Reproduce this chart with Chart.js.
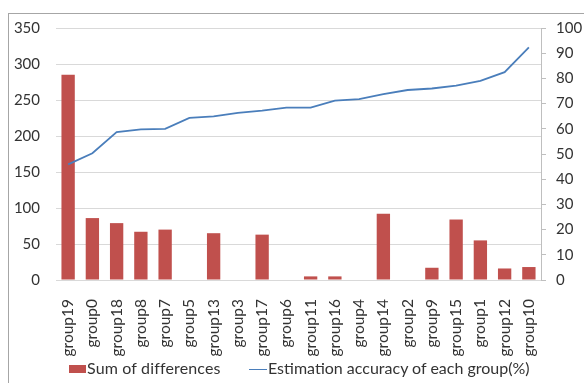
<!DOCTYPE html>
<html>
<head>
<meta charset="utf-8">
<script src="https://cdn.jsdelivr.net/npm/chart.js@4.4.1/dist/chart.umd.min.js"></script>
<style>
  html, body { margin: 0; padding: 0; background: #fff; overflow: hidden; }
  #wrap { position: relative; width: 584px; height: 383px; overflow: hidden; }
  #frame { position: absolute; left: 8px; top: 13px; width: 640px; height: 420px;
           border-left: 1px solid #a6a6a6; border-top: 1px solid #a6a6a6; }
  #chart { position: absolute; left: 0; top: 0; }
  .lg { position: absolute; font: 16px Lato, sans-serif; color: #333; white-space: nowrap; line-height: 16px; }
  .sw-bar { position: absolute; left: 69px; top: 365px; width: 17px; height: 8px; background: #C0504D; }
  .sw-line { position: absolute; left: 249px; top: 368.5px; width: 18px; height: 1.5px; background: #4A7EBB; }
</style>
</head>
<body>
<div id="wrap">
  <div id="frame"></div>
  <canvas id="chart" width="584" height="383"></canvas>
  <div class="sw-bar"></div>
  <div class="lg" style="left:87px; top:360px; letter-spacing:0.15px;">Sum of differences</div>
  <div class="sw-line"></div>
  <div class="lg" style="left:268px; top:360px;">Estimation accuracy of each group(%)</div>
</div>
<script>
// Groups, ordered by estimation accuracy
const categories = ['group19','group0','group18','group8','group7','group5','group13','group3','group17','group6',
                    'group11','group16','group4','group14','group2','group9','group15','group1','group12','group10'];
// Sum of differences per group (left axis)
const sumOfDifferences = [285, 86, 79, 67, 70, 0, 65, 0, 63, 0, 5, 5, 0, 92, 0, 17, 84, 55, 16, 18];
// Estimation accuracy per group in percent (right axis)
const accuracyPct = [45.9, 50.3, 58.7, 59.8, 60.0, 64.3, 64.9, 66.3, 67.2, 68.4,
                     68.4, 71.2, 71.8, 73.8, 75.4, 76.0, 77.1, 79.0, 82.5, 92.3];
const leftTicks = { min: 0, max: 350, step: 50 };
const rightTicks = { min: 0, max: 100, step: 10 };

const tickFont = { family: 'Lato', size: 15 };
const textColor = '#333';
const gridColor = '#d9d9d9';

new Chart(document.getElementById('chart'), {
  data: {
    labels: categories,
    datasets: [
      {
        type: 'line',
        label: 'Estimation accuracy of each group(%)',
        data: accuracyPct,
        yAxisID: 'y1',
        borderColor: '#4A7EBB',
        borderWidth: 1.8,
        pointRadius: 0,
        tension: 0,
        order: 0
      },
      {
        type: 'bar',
        label: 'Sum of differences',
        data: sumOfDifferences,
        yAxisID: 'y',
        backgroundColor: '#C0504D',
        barPercentage: 0.55,
        categoryPercentage: 1,
        order: 1
      }
    ]
  },
  options: {
    responsive: false,
    animation: false,
    layout: { padding: { top: 28, left: 0, right: 0, bottom: 0 } },
    plugins: { legend: { display: false }, tooltip: { enabled: false } },
    scales: {
      x: {
        grid: { display: false },
        border: { display: true, color: gridColor, width: 1 },
        ticks: { color: textColor, font: { family: 'Lato', size: 15.5 }, minRotation: 90, maxRotation: 90, padding: 11, autoSkip: false },
        afterFit: s => { s.height = 103; }
      },
      y: {
        position: 'left',
        min: leftTicks.min, max: leftTicks.max,
        ticks: { stepSize: leftTicks.step, color: textColor, font: tickFont, padding: 16 },
        grid: { color: gridColor, drawTicks: false },
        border: { display: false },
        afterFit: s => { s.width = 56; }
      },
      y1: {
        position: 'right',
        min: rightTicks.min, max: rightTicks.max,
        ticks: { stepSize: rightTicks.step, color: textColor, font: tickFont, padding: 10 },
        grid: { drawOnChartArea: false, drawTicks: true, tickLength: 5, color: '#bfbfbf' },
        border: { display: true, color: '#bfbfbf' },
        afterFit: s => { s.width = 43; }
      }
    }
  }
});
</script>
</body>
</html>
